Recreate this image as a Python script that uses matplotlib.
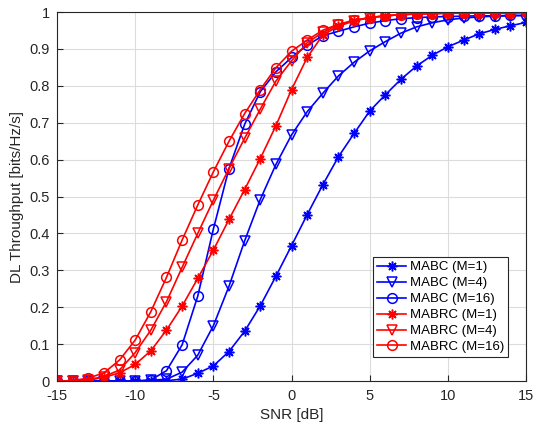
import matplotlib.pyplot as plt

plt.rcParams['font.family'] = ['Liberation Sans', 'DejaVu Sans']
plt.rcParams['axes.unicode_minus'] = False

snr = list(range(-15, 16))

mabc_1 = [0, 0, 0, 0, 0, 0, 0, 0.001, 0.005, 0.021, 0.041, 0.08, 0.135, 0.204, 0.284, 0.367,
          0.451, 0.532, 0.608, 0.671, 0.732, 0.776, 0.818, 0.854, 0.883, 0.906, 0.924, 0.941,
          0.953, 0.963, 0.972]
mabc_4 = [0, 0, 0, 0, 0, 0, 0.002, 0.005, 0.024, 0.07, 0.15, 0.257, 0.38, 0.492, 0.587, 0.667,
          0.73, 0.78, 0.827, 0.864, 0.895, 0.92, 0.943, 0.96, 0.971, 0.979, 0.984, 0.987,
          0.989, 0.99, 0.991]
mabc_16 = [0, 0, 0, 0, 0, 0, 0.003, 0.028, 0.098, 0.23, 0.412, 0.576, 0.696, 0.784, 0.838, 0.877,
           0.91, 0.936, 0.948, 0.96, 0.97, 0.977, 0.982, 0.985, 0.987, 0.988, 0.989, 0.99,
           0.99, 0.991, 0.991]
mabrc_1 = [0, 0, 0.002, 0.01, 0.022, 0.045, 0.082, 0.138, 0.203, 0.278, 0.355, 0.438, 0.519,
           0.603, 0.692, 0.79, 0.877, 0.938, 0.962, 0.976, 0.985, 0.99, 0.993, 0.995, 0.996,
           0.997, 0.997, 0.998, 0.998, 0.998, 0.999]
mabrc_4 = [0, 0.001, 0.004, 0.012, 0.03, 0.077, 0.138, 0.215, 0.308, 0.40, 0.49, 0.576, 0.658,
           0.737, 0.813, 0.868, 0.917, 0.945, 0.965, 0.977, 0.985, 0.99, 0.993, 0.995, 0.996,
           0.997, 0.997, 0.998, 0.998, 0.998, 0.999]
mabrc_16 = [0, 0.001, 0.008, 0.022, 0.057, 0.111, 0.188, 0.281, 0.382, 0.477, 0.567, 0.65, 0.725,
            0.79, 0.849, 0.894, 0.924, 0.951, 0.967, 0.978, 0.985, 0.99, 0.993, 0.995, 0.996,
            0.997, 0.997, 0.998, 0.998, 0.998, 0.999]

series = [
    (mabc_1, 'b', (8, 2, 0), 'MABC (M=1)'),
    (mabc_4, 'b', 'v', 'MABC (M=4)'),
    (mabc_16, 'b', 'o', 'MABC (M=16)'),
    (mabrc_1, 'r', (8, 2, 0), 'MABRC (M=1)'),
    (mabrc_4, 'r', 'v', 'MABRC (M=4)'),
    (mabrc_16, 'r', 'o', 'MABRC (M=16)'),
]

fig = plt.figure(figsize=(5.33, 4.32), dpi=100)
ax = fig.add_axes([0.107, 0.118, 0.88, 0.854])

for vals, col, mk, lab in series:
    ax.plot(snr, vals, color=col, marker=mk, markersize=7, markerfacecolor='none',
            markeredgecolor=col, markeredgewidth=1.1, linewidth=1.2, label=lab)

ax.set_xlim(-15, 15)
ax.set_ylim(0, 1)
ax.set_xticks(range(-15, 16, 5))
ax.set_yticks([i / 10 for i in range(11)])
ax.set_yticklabels(['0'] + ['%.1f' % (i / 10) for i in range(1, 10)] + ['1'])
ax.grid(True, color='#dcdcdc', linewidth=0.8)
ax.set_axisbelow(True)
ax.tick_params(direction='in', labelsize=10.5, colors='#262626', length=4)
ax.tick_params(axis='x', pad=6)
ax.tick_params(axis='y', pad=5)
for s in ax.spines.values():
    s.set_color('#262626')
    s.set_linewidth(0.8)
ax.set_xlabel('SNR [dB]', fontsize=11, color='#262626', labelpad=3)
ax.set_ylabel('DL Throughput [bits/Hz/s]', fontsize=11, color='#262626')
leg = ax.legend(loc='lower right', fontsize=9.5, fancybox=False, edgecolor='#262626',
                framealpha=1, bbox_to_anchor=(0.962, 0.065), handlelength=2.2,
                labelspacing=0.28, borderpad=0.3, handletextpad=0.3, borderaxespad=0)
leg.get_frame().set_linewidth(0.8)

fig.savefig('out.png', dpi=100)
